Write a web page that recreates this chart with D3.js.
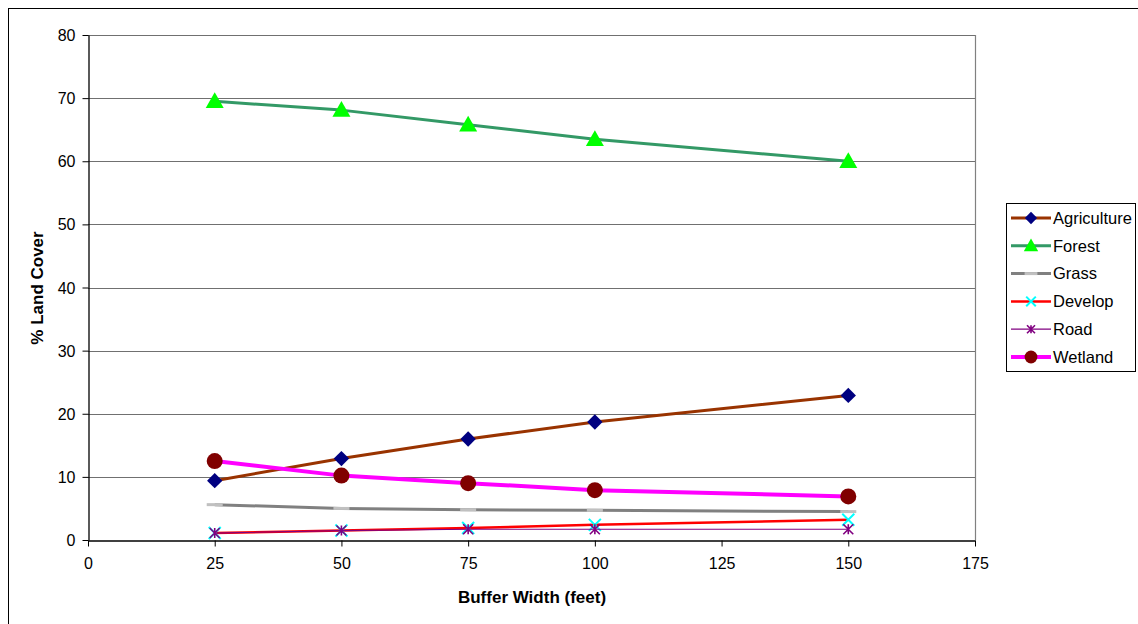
<!DOCTYPE html>
<html>
<head>
<meta charset="utf-8">
<script src="https://cdn.jsdelivr.net/npm/d3@7"></script>
<style>
  body { margin: 0; background: #fff; }
  svg { display: block; font-family: "Liberation Sans", Arial, sans-serif; }
</style>
</head>
<body>
<svg id="chart" width="1138" height="624"></svg>
<script>
// buffer widths (x) and % land cover per class
const buffers = [25, 50, 75, 100, 150];
const agriculture = [9.4, 12.9, 16.0, 18.7, 22.9];
const forest = [69.5, 68.1, 65.8, 63.5, 60.0];
const grass = [5.6, 5.0, 4.8, 4.7, 4.5];
const develop = [1.1, 1.5, 1.9, 2.4, 3.2];
const road = [1.1, 1.5, 1.7, 1.7, 1.7];
const wetland = [12.5, 10.2, 9.0, 7.9, 6.9];

const xTicks = [0, 25, 50, 75, 100, 125, 150, 175];
const yTicks = [0, 10, 20, 30, 40, 50, 60, 70, 80];

const series = [
  { name: "Agriculture", values: agriculture, line: "#993300", width: 3, marker: "diamond", fill: "#000080" },
  { name: "Forest", values: forest, line: "#339966", width: 3, marker: "triangle", fill: "#00ff00" },
  { name: "Grass", values: grass, line: "#808080", width: 3, marker: "dash", fill: "#c0c0c0" },
  { name: "Develop", values: develop, line: "#ff0000", width: 2.5, marker: "x", fill: "#00ffff" },
  { name: "Road", values: road, line: "#800080", width: 1.2, marker: "star", fill: "#800080" },
  { name: "Wetland", values: wetland, line: "#ff00ff", width: 4, marker: "circle", fill: "#800000" },
];

const svg = d3.select("#chart");
const plot = { left: 88, right: 975, top: 35, bottom: 540 };

const x = d3.scaleLinear().domain([0, 175]).range([plot.left, plot.right]);
const y = d3.scaleLinear().domain([0, 80]).range([plot.bottom, plot.top]);

// outer chart border
svg.append("rect")
  .attr("x", 8.5).attr("y", 8.5)
  .attr("width", 1140).attr("height", 640)
  .attr("fill", "none").attr("stroke", "#000").attr("stroke-width", 1);

// plot area border (right side gray)
svg.append("line")
  .attr("x1", plot.right + 0.5).attr("x2", plot.right + 0.5)
  .attr("y1", plot.top).attr("y2", plot.bottom)
  .attr("stroke", "#808080").attr("stroke-width", 1.2);

// gridlines
svg.append("g")
  .selectAll("line")
  .data(yTicks.filter((d) => d > 0))
  .join("line")
  .attr("x1", plot.left).attr("x2", plot.right)
  .attr("y1", (d) => Math.round(y(d)) + 0.5)
  .attr("y2", (d) => Math.round(y(d)) + 0.5)
  .attr("stroke", "#707070").attr("stroke-width", 1);

// axes
const xAxis = svg.append("g")
  .attr("transform", `translate(0,${plot.bottom + 0.5})`)
  .call(d3.axisBottom(x).tickValues(xTicks).tickSize(6).tickSizeOuter(0).tickPadding(11));
const yAxis = svg.append("g")
  .attr("transform", `translate(${plot.left + 0.5},0)`)
  .call(d3.axisLeft(y).tickValues(yTicks).tickSize(6).tickSizeOuter(0).tickPadding(7));

[xAxis, yAxis].forEach((g) => {
  g.select(".domain").attr("stroke", "#000").attr("stroke-width", 1.3);
  g.selectAll(".tick line").attr("stroke", "#000");
  g.selectAll("text")
    .attr("fill", "#000")
    .style("font-size", "16px")
    .style("font-family", "'Liberation Sans', Arial, sans-serif");
});
yAxis.selectAll("text").attr("dy", "0.35em");

// axis titles
svg.append("text")
  .attr("x", 532).attr("y", 603)
  .attr("text-anchor", "middle")
  .attr("font-size", 17).attr("font-weight", "bold")
  .text("Buffer Width (feet)");

svg.append("text")
  .attr("transform", "translate(43,288) rotate(-90)")
  .attr("text-anchor", "middle")
  .attr("font-size", 17).attr("font-weight", "bold")
  .text("% Land Cover");

// marker drawing
function drawMarker(g, s, cx, cy, scale) {
  const k = scale || 1;
  if (s.marker === "diamond") {
    g.append("path")
      .attr("d", d3.symbol(d3.symbolDiamond2, 150 * k * k)())
      .attr("transform", `translate(${cx},${cy})`)
      .attr("fill", s.fill);
  } else if (s.marker === "triangle") {
    const r = 9 * k;
    g.append("path")
      .attr("d", `M${cx},${cy - r}L${cx + r},${cy + r * 0.75}L${cx - r},${cy + r * 0.75}Z`)
      .attr("fill", s.fill);
  } else if (s.marker === "circle") {
    g.append("circle")
      .attr("cx", cx).attr("cy", cy).attr("r", 8 * k)
      .attr("fill", s.fill);
  } else if (s.marker === "dash") {
    g.append("line")
      .attr("x1", cx - 8 * k).attr("x2", cx + 8 * k)
      .attr("y1", cy).attr("y2", cy)
      .attr("stroke", s.fill).attr("stroke-width", 3);
  } else if (s.marker === "x") {
    const r = 6 * k;
    g.append("path")
      .attr("d", `M${cx - r},${cy - r}L${cx + r},${cy + r}M${cx - r},${cy + r}L${cx + r},${cy - r}`)
      .attr("stroke", s.fill).attr("stroke-width", 2).attr("fill", "none");
  } else if (s.marker === "star") {
    const r = 5 * k;
    g.append("path")
      .attr("d", `M${cx - r},${cy - r}L${cx + r},${cy + r}M${cx - r},${cy + r}L${cx + r},${cy - r}M${cx},${cy - r}L${cx},${cy + r}`)
      .attr("stroke", s.fill).attr("stroke-width", 1.6).attr("fill", "none");
  }
}

// series
const line = d3.line()
  .x((d) => x(d.x))
  .y((d) => y(d.y));

const seriesG = svg.append("g");
series.forEach((s) => {
  const pts = buffers.map((b, i) => ({ x: b, y: s.values[i] }));
  const g = seriesG.append("g");
  g.append("path")
    .datum(pts)
    .attr("d", line)
    .attr("fill", "none")
    .attr("stroke", s.line)
    .attr("stroke-width", s.width)
    .attr("stroke-linejoin", "round");
  pts.forEach((p) => drawMarker(g, s, x(p.x), y(p.y)));
});

// legend
const legend = svg.append("g");
legend.append("rect")
  .attr("x", 1006.5).attr("y", 203.5)
  .attr("width", 129).attr("height", 168)
  .attr("fill", "#fff").attr("stroke", "#000").attr("stroke-width", 1);

series.forEach((s, i) => {
  const ly = 218 + i * 27.8;
  const g = legend.append("g");
  g.append("line")
    .attr("x1", 1011).attr("x2", 1051)
    .attr("y1", ly).attr("y2", ly)
    .attr("stroke", s.line).attr("stroke-width", s.width);
  drawMarker(g, s, 1031, ly, 0.8);
  g.append("text")
    .attr("x", 1053).attr("y", ly)
    .attr("dy", "0.35em")
    .attr("font-size", 16.5)
    .text(s.name);
});
</script>
</body>
</html>
